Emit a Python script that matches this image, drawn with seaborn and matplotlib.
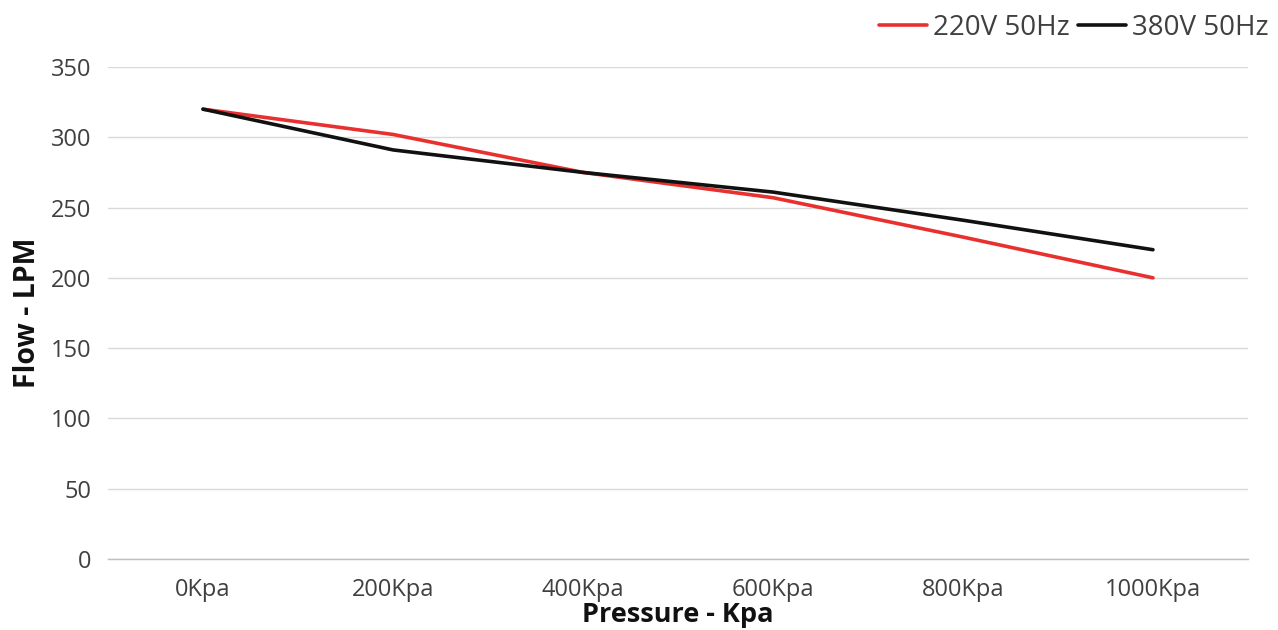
import matplotlib
matplotlib.use("Agg")
import matplotlib.pyplot as plt
import seaborn as sns
import pandas as pd
import numpy as np

categories = ["0Kpa", "200Kpa", "400Kpa", "600Kpa", "800Kpa", "1000Kpa"]
flow_220v = [320, 302, 275, 257, 229, 200]
flow_380v = [320, 291, 275, 261, 241, 220]
series_names = ["220V 50Hz", "380V 50Hz"]
y_ticks = [0, 50, 100, 150, 200, 250, 300, 350]

sns.set_style("white")
plt.rcParams["font.family"] = ["Open Sans", "DejaVu Sans"]

df = pd.DataFrame({
    "Pressure": categories * 2,
    "pos": list(range(len(categories))) * 2,
    "Flow": flow_220v + flow_380v,
    "Series": [series_names[0]] * len(categories) + [series_names[1]] * len(categories),
})

fig = plt.figure(figsize=(12.78, 6.30), dpi=100)
ax = fig.add_axes([0.0845, 0.1127, 0.892, 0.781])

sns.lineplot(data=df, x="pos", y="Flow", hue="Series", hue_order=series_names,
             palette={series_names[0]: "#e8302f", series_names[1]: "#111111"},
             linewidth=2.6, ax=ax, sort=False)

ax.set_xlim(-0.5, len(categories) - 0.5)
ax.set_ylim(0, 350)
ax.set_yticks(y_ticks)
ax.set_yticklabels([str(v) for v in y_ticks])
ax.set_xticks(range(len(categories)))
ax.set_xticklabels(categories)
ax.set_xticks(np.arange(-0.5, len(categories)), minor=True)
ax.tick_params(axis="x", which="major", length=0, pad=14, labelsize=17, labelcolor="#404040")
ax.tick_params(axis="x", which="minor", length=6, color="#bfbfbf", width=1)
ax.tick_params(axis="y", length=0, pad=12, labelsize=17, labelcolor="#404040")

ax.yaxis.grid(True, color="#d9d9d9", linewidth=1)
ax.set_axisbelow(True)
for s in ["top", "right", "left"]:
    ax.spines[s].set_visible(False)
ax.spines["bottom"].set_color("#bfbfbf")
ax.spines["bottom"].set_linewidth(1)

ax.set_xlabel("Pressure - Kpa", fontsize=19.5, fontweight="bold", color="#111111", labelpad=0)
ax.set_ylabel("Flow - LPM", fontsize=20.5, fontweight="bold", color="#111111", labelpad=6)

leg = ax.legend(loc="upper right", bbox_to_anchor=(0.997, 0.987), bbox_transform=fig.transFigure,
                ncol=2, frameon=False, fontsize=20, handlelength=1.75, handletextpad=0.2,
                columnspacing=0.3, borderaxespad=0, borderpad=0.2)
for t in leg.get_texts():
    t.set_color("#404040")

fig.savefig("out.png", dpi=100, facecolor="white")
